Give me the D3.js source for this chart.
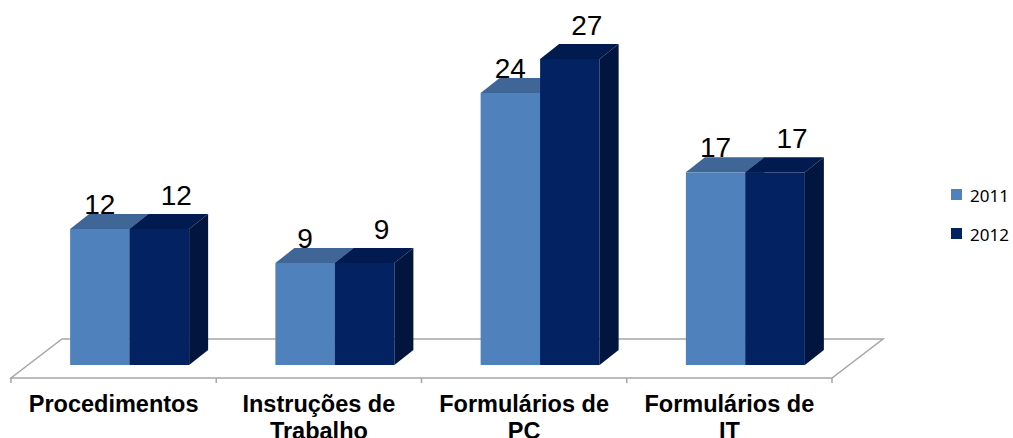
<!DOCTYPE html>
<html>
<head>
<meta charset="utf-8">
<script src="https://cdn.jsdelivr.net/npm/d3@7"></script>
<style>
    body { margin: 0; background: #fff; }
    svg { display: block; }
</style>
</head>
<body>
<div id="chart"></div>
<script>
'use strict';

var categories = ['Procedimentos', 'Instruções de\nTrabalho', 'Formulários de\nPC', 'Formulários de\nIT'];
var series = ['2011', '2012'];
var values2011 = [12, 9, 24, 17];
var values2012 = [12, 9, 27, 17];

var width = 1013;
var height = 438;

var floorFront = 378;
var floorDepth = { dx: 51, dy: -39 };
var barDepth = { dx: 19, dy: -15 };
var planeShift = 16;
var groupWidth = 119;

var colors = {
    '2011': { front: '#4f81bd', top: '#3f6697', side: '#2f4e76' },
    '2012': { front: '#022262', top: '#011b50', side: '#01153f' }
};

var svg = d3.select('#chart').append('svg')
    .attr('width', width)
    .attr('height', height);

var x0 = d3.scaleBand().domain(categories).range([11, 832]);
var x1 = d3.scaleBand().domain(series).range([0, groupWidth]);
var y = d3.scaleLinear().domain([0, 30]).range([365, 25]);

// floor
var fl = x0.range()[0];
var fr = x0.range()[1];
svg.append('polygon')
    .attr('points', [
        [fl, floorFront],
        [fr, floorFront],
        [fr + floorDepth.dx, floorFront + floorDepth.dy],
        [fl + floorDepth.dx, floorFront + floorDepth.dy]
    ].join(' '))
    .attr('fill', '#fff')
    .attr('stroke', '#a6a6a6')
    .attr('stroke-width', 1.5);

var tickXs = categories.map(function (c) { return x0(c); }).concat([fr]);
svg.selectAll('line.tick')
    .data(tickXs)
    .enter().append('line')
    .attr('class', 'tick')
    .attr('x1', function (d) { return d; })
    .attr('x2', function (d) { return d; })
    .attr('y1', floorFront)
    .attr('y2', floorFront + 5)
    .attr('stroke', '#a6a6a6')
    .attr('stroke-width', 1.5);

// bars, drawn left to right so faces overlap correctly
var bars = [];
categories.forEach(function (cat, i) {
    bars.push({ cat: cat, key: '2011', value: values2011[i] });
    bars.push({ cat: cat, key: '2012', value: values2012[i] });
});

bars.forEach(function (d) {
    d.x = x0(d.cat) + x0.bandwidth() / 2 - groupWidth / 2 + planeShift + x1(d.key);
    d.w = x1.bandwidth();
    d.top = y(d.value);
    d.bottom = y(0);
});

var barG = svg.selectAll('g.bar')
    .data(bars)
    .enter().append('g')
    .attr('class', 'bar');

barG.append('rect')
    .attr('x', function (d) { return d.x; })
    .attr('y', function (d) { return d.top; })
    .attr('width', function (d) { return d.w; })
    .attr('height', function (d) { return d.bottom - d.top; })
    .attr('fill', function (d) { return colors[d.key].front; });

barG.append('polygon')
    .attr('points', function (d) {
        return [
            [d.x, d.top],
            [d.x + d.w, d.top],
            [d.x + d.w + barDepth.dx, d.top + barDepth.dy],
            [d.x + barDepth.dx, d.top + barDepth.dy]
        ].join(' ');
    })
    .attr('fill', function (d) { return colors[d.key].top; });

barG.append('polygon')
    .attr('points', function (d) {
        return [
            [d.x + d.w, d.top],
            [d.x + d.w + barDepth.dx, d.top + barDepth.dy],
            [d.x + d.w + barDepth.dx, d.bottom + barDepth.dy],
            [d.x + d.w, d.bottom]
        ].join(' ');
    })
    .attr('fill', function (d) { return colors[d.key].side; });

// value labels
svg.selectAll('text.value')
    .data(bars)
    .enter().append('text')
    .attr('class', 'value')
    .attr('x', function (d) {
        return d.key === '2011' ? d.x + d.w / 2 : d.x + d.w / 2 + 17;
    })
    .attr('y', function (d) {
        return d.key === '2011' ? d.top + barDepth.dy : d.top + barDepth.dy - 9;
    })
    .attr('text-anchor', 'middle')
    .attr('font-family', '"Liberation Sans", Arial, sans-serif')
    .attr('font-size', 28)
    .attr('fill', '#000')
    .text(function (d) { return d.value; });

// category labels
var catText = svg.selectAll('text.cat')
    .data(categories)
    .enter().append('text')
    .attr('class', 'cat')
    .attr('text-anchor', 'middle')
    .attr('font-family', '"Liberation Sans", Arial, sans-serif')
    .attr('font-weight', 'bold')
    .attr('font-size', 23.5)
    .attr('fill', '#000');

catText.selectAll('tspan')
    .data(function (d) {
        return d.split('\n').map(function (line) { return { line: line, cat: d }; });
    })
    .enter().append('tspan')
    .attr('x', function (d) { return x0(d.cat) + x0.bandwidth() / 2; })
    .attr('y', function (d, i) { return 412 + i * 27; })
    .text(function (d) { return d.line; });

// legend
var legend = svg.selectAll('g.legend')
    .data(series)
    .enter().append('g')
    .attr('class', 'legend')
    .attr('transform', function (d, i) { return 'translate(951,' + (189 + i * 39) + ')'; });

legend.append('rect')
    .attr('width', 11)
    .attr('height', 11)
    .attr('fill', function (d) { return colors[d].front; });

legend.append('text')
    .attr('x', 19)
    .attr('y', 13)
    .attr('font-family', '"Noto Sans", "Open Sans", sans-serif')
    .attr('font-size', 17)
    .attr('fill', '#000')
    .text(function (d) { return d; });
</script>
</body>
</html>
